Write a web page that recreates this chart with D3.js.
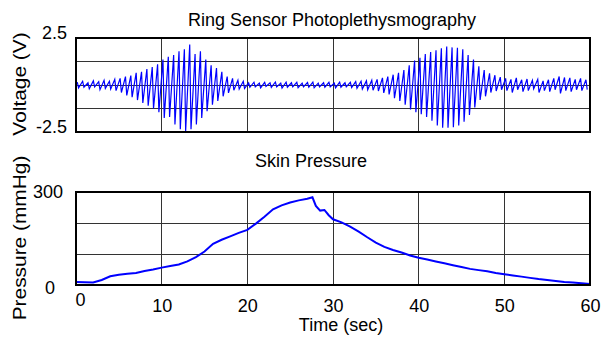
<!DOCTYPE html>
<html lang="en">
<head>
    <meta charset="utf-8">
    <title>Ring Sensor PPG</title>
    <script src="https://d3js.org/d3.v7.min.js"></script>
    <style>
        html, body {
            margin: 0;
            padding: 0;
            background: white;
        }
        text {
            font-family: "Liberation Sans", Arial, sans-serif;
            font-size: 18px;
            fill: black;
        }
        .grid line {
            stroke: #333;
            stroke-width: 1px;
            shape-rendering: crispEdges;
        }
        .frame {
            fill: none;
            stroke: black;
            stroke-width: 2px;
            shape-rendering: crispEdges;
        }
    </style>
</head>
<body>
<script type="text/javascript">

    // Ring sensor signal: one peak and one trough per heart beat (V)
    var beatStart = 0.15;     // sec, first beat
    var beatPeriod = 0.625;   // sec between beats
    var ppgPeaks = [0.15, 0.2, 0.12, 0.22, 0.18, 0.25, 0.2,
        0.3, 0.35, 0.45, 0.5, 0.65, 0.7, 0.85, 0.95, 1.1, 1.35, 1.5, 1.6, 1.8, 1.9, 2.15, 1.65, 1.8, 1.35, 1.05, 0.9, 0.7, 0.45, 0.35, 0.25, 0.2,
        0.12, 0.15, 0.1, 0.14, 0.12, 0.16, 0.1, 0.15, 0.12, 0.14, 0.1, 0.13, 0.15, 0.1, 0.12, 0.14, 0.1, 0.15, 0.12, 0.14, 0.18,
        0.2, 0.22, 0.25, 0.3, 0.38, 0.45, 0.55, 0.65, 0.8, 1.05, 1.3, 1.45, 1.65, 1.75, 1.85, 1.95, 2.05, 2.0, 1.98, 1.9, 1.6, 1.35, 1.0, 0.8, 0.62, 0.52, 0.42,
        0.35, 0.3, 0.38, 0.28, 0.32, 0.25, 0.3, 0.22, 0.28, 0.35, 0.45, 0.4, 0.38, 0.3, 0.35, 0.28];
    var ppgTroughs = [-0.15, -0.12, -0.2, -0.1, -0.25, -0.18, -0.22,
        -0.3, -0.4, -0.55, -0.65, -0.8, -0.95, -1.1, -1.25, -1.45, -1.75, -1.7, -2.1, -2.35, -2.45, -2.35, -2.1, -1.75, -1.4, -1.05, -0.85, -0.6, -0.42, -0.28, -0.22, -0.18,
        -0.12, -0.1, -0.15, -0.08, -0.13, -0.1, -0.16, -0.12, -0.1, -0.14, -0.1, -0.12, -0.15, -0.1, -0.12, -0.1, -0.15, -0.12, -0.1, -0.14, -0.18,
        -0.22, -0.25, -0.28, -0.32, -0.42, -0.5, -0.7, -0.85, -1.05, -1.3, -1.45, -1.55, -1.7, -1.9, -2.15, -2.27, -2.27, -2.25, -2.15, -1.95, -1.6, -1.2, -0.8, -0.6, -0.4, -0.32, -0.25,
        -0.3, -0.4, -0.25, -0.35, -0.3, -0.2, -0.4, -0.3, -0.35, -0.25, -0.45, -0.3, -0.35, -0.25, -0.3, -0.25];

    // Skin pressure (mmHg)
    var pressureTime = [0, 1, 2, 3, 4, 5, 6, 7, 8, 9, 10, 11, 12, 13, 14, 15, 16, 17, 18, 19, 20,
        21, 22, 23, 24, 25, 26, 27, 27.6, 28, 28.5, 29, 29.5, 30, 31, 32, 33, 34, 35, 36, 37, 38, 39, 40,
        41, 42, 43, 44, 45, 46, 47, 48, 49, 50, 51, 52, 53, 54, 55, 56, 57, 58, 59, 60];
    var pressureValue = [10, 9, 8, 16, 28, 33, 36, 39, 45, 50, 56, 61, 66, 76, 90, 108, 133, 146, 157, 168, 178,
        198, 220, 244, 257, 266, 273, 278, 283, 255, 240, 242, 225, 212, 202, 188, 172, 154, 137, 123, 113, 105, 95, 88,
        82, 76, 70, 64, 58, 52, 48, 44, 39, 35, 31, 27, 23, 19, 16, 13, 10, 8, 6, 3];

    var timeTicks = [0, 10, 20, 30, 40, 50, 60];
    var voltLabels = [-2.5, 2.5];
    var voltGrid = [-1.25, 0, 1.25];
    var pressLabels = [0, 300];
    var pressGrid = [100, 200];

    var w = 603, h = 339;
    var left = 76, right = 590;

    var svg = d3.select("body")
        .append("svg")
        .attr("width", w)
        .attr("height", h);

    var xScale = d3.scaleLinear().domain([0, 60]).range([left, right]);
    var yVolt = d3.scaleLinear().domain([-2.5, 2.5]).range([132, 38]);
    var yPress = d3.scaleLinear().domain([0, 300]).range([285, 192]);

    function panel(yScale, gridVals, id) {
        var g = svg.append("g");
        var y0 = yScale.range()[0], y1 = yScale.range()[1];

        g.append("clipPath").attr("id", id)
            .append("rect")
            .attr("x", left).attr("y", y1)
            .attr("width", right - left).attr("height", y0 - y1);

        var grid = g.append("g").attr("class", "grid");
        grid.selectAll(".gx")
            .data(timeTicks.slice(1, -1))
            .enter().append("line")
            .attr("x1", function(d) { return xScale(d); })
            .attr("x2", function(d) { return xScale(d); })
            .attr("y1", y1).attr("y2", y0);
        grid.selectAll(".gy")
            .data(gridVals)
            .enter().append("line")
            .attr("x1", left).attr("x2", right)
            .attr("y1", function(d) { return yScale(d); })
            .attr("y2", function(d) { return yScale(d); });
        return g;
    }

    //top panel
    var gTop = panel(yVolt, voltGrid, "clipTop");
    var ppgPoints = [];
    ppgPeaks.forEach(function(p, i) {
        var t = beatStart + i * beatPeriod;
        ppgPoints.push([t, p]);
        ppgPoints.push([t + 0.15, ppgTroughs[i]]);
    });
    var ppgLine = d3.line()
        .x(function(d) { return xScale(d[0]); })
        .y(function(d) { return yVolt(d[1]); });
    gTop.append("path")
        .datum(ppgPoints)
        .attr("clip-path", "url(#clipTop)")
        .attr("d", ppgLine)
        .attr("fill", "none")
        .attr("stroke", "#0000ff")
        .attr("stroke-width", 1.2);
    gTop.append("rect").attr("class", "frame")
        .attr("x", left).attr("y", 38)
        .attr("width", right - left).attr("height", 132 - 38);

    gTop.append("g")
        .attr("transform", "translate(" + left + ",-5)")
        .call(d3.axisLeft(yVolt).tickValues(voltLabels).tickSize(0).tickPadding(9)
            .tickFormat(function(d) { return d < 0 ? "-" + Math.abs(d) : "" + d; }))
        .call(function(a) { a.select(".domain").remove(); a.selectAll("text").style("font-size", "18px").style("font-family", null); });

    //bottom panel
    var gBot = panel(yPress, pressGrid, "clipBot");
    var pressData = pressureTime.map(function(t, i) { return [t, pressureValue[i]]; });
    var pressLine = d3.line()
        .x(function(d) { return xScale(d[0]); })
        .y(function(d) { return yPress(d[1]); });
    gBot.append("path")
        .datum(pressData)
        .attr("clip-path", "url(#clipBot)")
        .attr("d", pressLine)
        .attr("fill", "none")
        .attr("stroke", "#0000ff")
        .attr("stroke-width", 2);
    gBot.append("rect").attr("class", "frame")
        .attr("x", left).attr("y", 192)
        .attr("width", right - left).attr("height", 285 - 192);

    gBot.append("g")
        .attr("transform", "translate(" + left + ",0)")
        .call(d3.axisLeft(yPress).tickValues(pressLabels).tickSize(0).tickPadding(13))
        .call(function(a) {
            a.select(".domain").remove();
            a.selectAll("text").style("font-size", "18px").style("font-family", null)
                .attr("dx", function(d) { return d === 0 ? -8 : 0; })
                .attr("dy", function(d) { return d === 0 ? "0.45em" : "0.32em"; });
        });

    gBot.append("g")
        .attr("transform", "translate(0,285)")
        .call(d3.axisBottom(xScale).tickValues(timeTicks).tickSize(0).tickPadding(14))
        .call(function(a) {
            a.select(".domain").remove();
            a.selectAll("text").style("font-size", "18px").style("font-family", null)
                .attr("dx", function(d) { return d === 0 ? 4 : 0; })
                .attr("y", function(d) { return d === 0 ? 8 : 14; });
        });

    //titles and labels
    svg.append("text").attr("x", 332).attr("y", 26).attr("text-anchor", "middle")
        .text("Ring Sensor Photoplethysmography");
    svg.append("text").attr("x", 311).attr("y", 167).attr("text-anchor", "middle")
        .text("Skin Pressure");
    svg.append("text").attr("x", 341).attr("y", 331).attr("text-anchor", "middle")
        .text("Time (sec)");
    svg.append("text")
        .attr("transform", "translate(26,84) rotate(-90) scale(1.16,1)")
        .attr("text-anchor", "middle")
        .text("Voltage (V)");
    svg.append("text")
        .attr("transform", "translate(26,238) rotate(-90) scale(1.16,1)")
        .attr("text-anchor", "middle")
        .text("Pressure (mmHg)");

</script>
</body>
</html>
